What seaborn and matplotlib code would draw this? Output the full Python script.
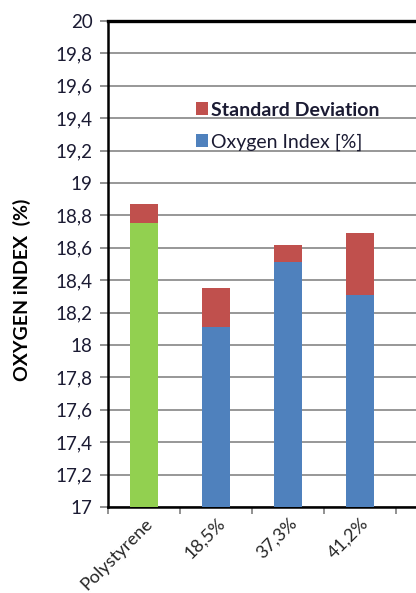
import matplotlib
matplotlib.use("Agg")
import matplotlib.pyplot as plt
import matplotlib.transforms as mtransforms
from matplotlib.patches import Patch
from matplotlib.ticker import FixedLocator
import seaborn as sns
import pandas as pd

# Data
categories = ["Polystyrene", "18,5%", "37,3%", "41,2%"]
oxygen_index = [18.75, 18.11, 18.51, 18.31]
std_dev = [0.12, 0.24, 0.11, 0.38]
y_ticks = [17.0, 17.2, 17.4, 17.6, 17.8, 18.0, 18.2, 18.4, 18.6, 18.8,
           19.0, 19.2, 19.4, 19.6, 19.8, 20.0]
y_tick_labels = ["17", "17,2", "17,4", "17,6", "17,8", "18", "18,2", "18,4",
                 "18,6", "18,8", "19", "19,2", "19,4", "19,6", "19,8", "20"]

GREEN = "#92D050"
BLUE = "#4F81BD"
RED = "#C0504D"

df = pd.DataFrame({
    "category": categories,
    "oi": oxygen_index,
    "total": [o + s for o, s in zip(oxygen_index, std_dev)],
})
bar_colors = [GREEN] + [BLUE] * (len(categories) - 1)

sns.set_theme(style="white")
plt.rcParams["font.family"] = ["Lato", "DejaVu Sans"]

W, H, DPI = 416, 593, 100
fig = plt.figure(figsize=(W / DPI, H / DPI), dpi=DPI)
ax_left, ax_bottom, ax_top = 108, 507, 21
ax = fig.add_axes([ax_left / W, (H - ax_bottom) / H,
                   (W - ax_left) / W, (ax_bottom - ax_top) / H])

bar_w = 0.39
# red segment: full height (mean + deviation), then the index bar over it
sns.barplot(data=df, x="category", y="total", order=categories,
            color=RED, width=bar_w, saturation=1, ax=ax, zorder=2,
            linewidth=0, edgecolor="none")
sns.barplot(data=df, x="category", y="oi", order=categories,
            hue="category", palette=bar_colors, legend=False,
            width=bar_w, saturation=1, ax=ax, zorder=3,
            linewidth=0, edgecolor="none")

cat_px = 72.0
ax.set_xlim(-0.5, -0.5 + (W - ax_left) / cat_px)
ax.set_ylim(17, 20)

ax.set_yticks(y_ticks)
ax.set_yticklabels(y_tick_labels)
ax.yaxis.grid(True, color="#8f8f8f", linewidth=1.3, zorder=0)
ax.set_axisbelow(True)

ax.tick_params(axis="y", which="major", direction="out", length=6,
               width=1.2, color="#7f7f7f", labelsize=13.5,
               labelcolor="#1b1b33", pad=5, left=True)
ax.tick_params(axis="x", which="major", length=0, labelsize=13,
               labelcolor="#262626", pad=10)
ax.xaxis.set_minor_locator(FixedLocator([-0.5, 0.5, 1.5, 2.5, 3.5]))
ax.tick_params(axis="x", which="minor", direction="out", length=5,
               width=1.2, color="#7f7f7f", bottom=True)
shift = mtransforms.ScaledTranslation(6 / DPI, 0, fig.dpi_scale_trans)
for lab in ax.get_xticklabels():
    lab.set_rotation(45)
    lab.set_ha("right")
    lab.set_va("center")
    lab.set_rotation_mode("anchor")
    lab.set_transform(lab.get_transform() + shift)

for side in ("left", "bottom"):
    ax.spines[side].set_color("black")
    ax.spines[side].set_linewidth(1.8)
ax.spines["top"].set_color("black")
ax.spines["top"].set_linewidth(2.4)
ax.spines["right"].set_visible(False)

ax.set_xlabel("")
ax.set_ylabel("OXYGEN iNDEX  (%)", fontsize=14, fontweight="bold",
              color="black")
ax.yaxis.set_label_coords(-0.25, 0.446)

handles = [Patch(facecolor=RED, edgecolor="none"),
           Patch(facecolor=BLUE, edgecolor="none")]
leg = ax.legend(handles, ["Standard Deviation", "Oxygen Index [%]"],
                loc="upper left", bbox_to_anchor=(0.26, 0.85),
                frameon=False, fontsize=14, handlelength=0.65,
                handleheight=0.65, handletextpad=0.15, labelspacing=0.76,
                borderaxespad=0)
leg.get_texts()[0].set_fontweight("bold")
for t in leg.get_texts():
    t.set_color("#1b1b33")

fig.savefig("out.png", dpi=DPI)
